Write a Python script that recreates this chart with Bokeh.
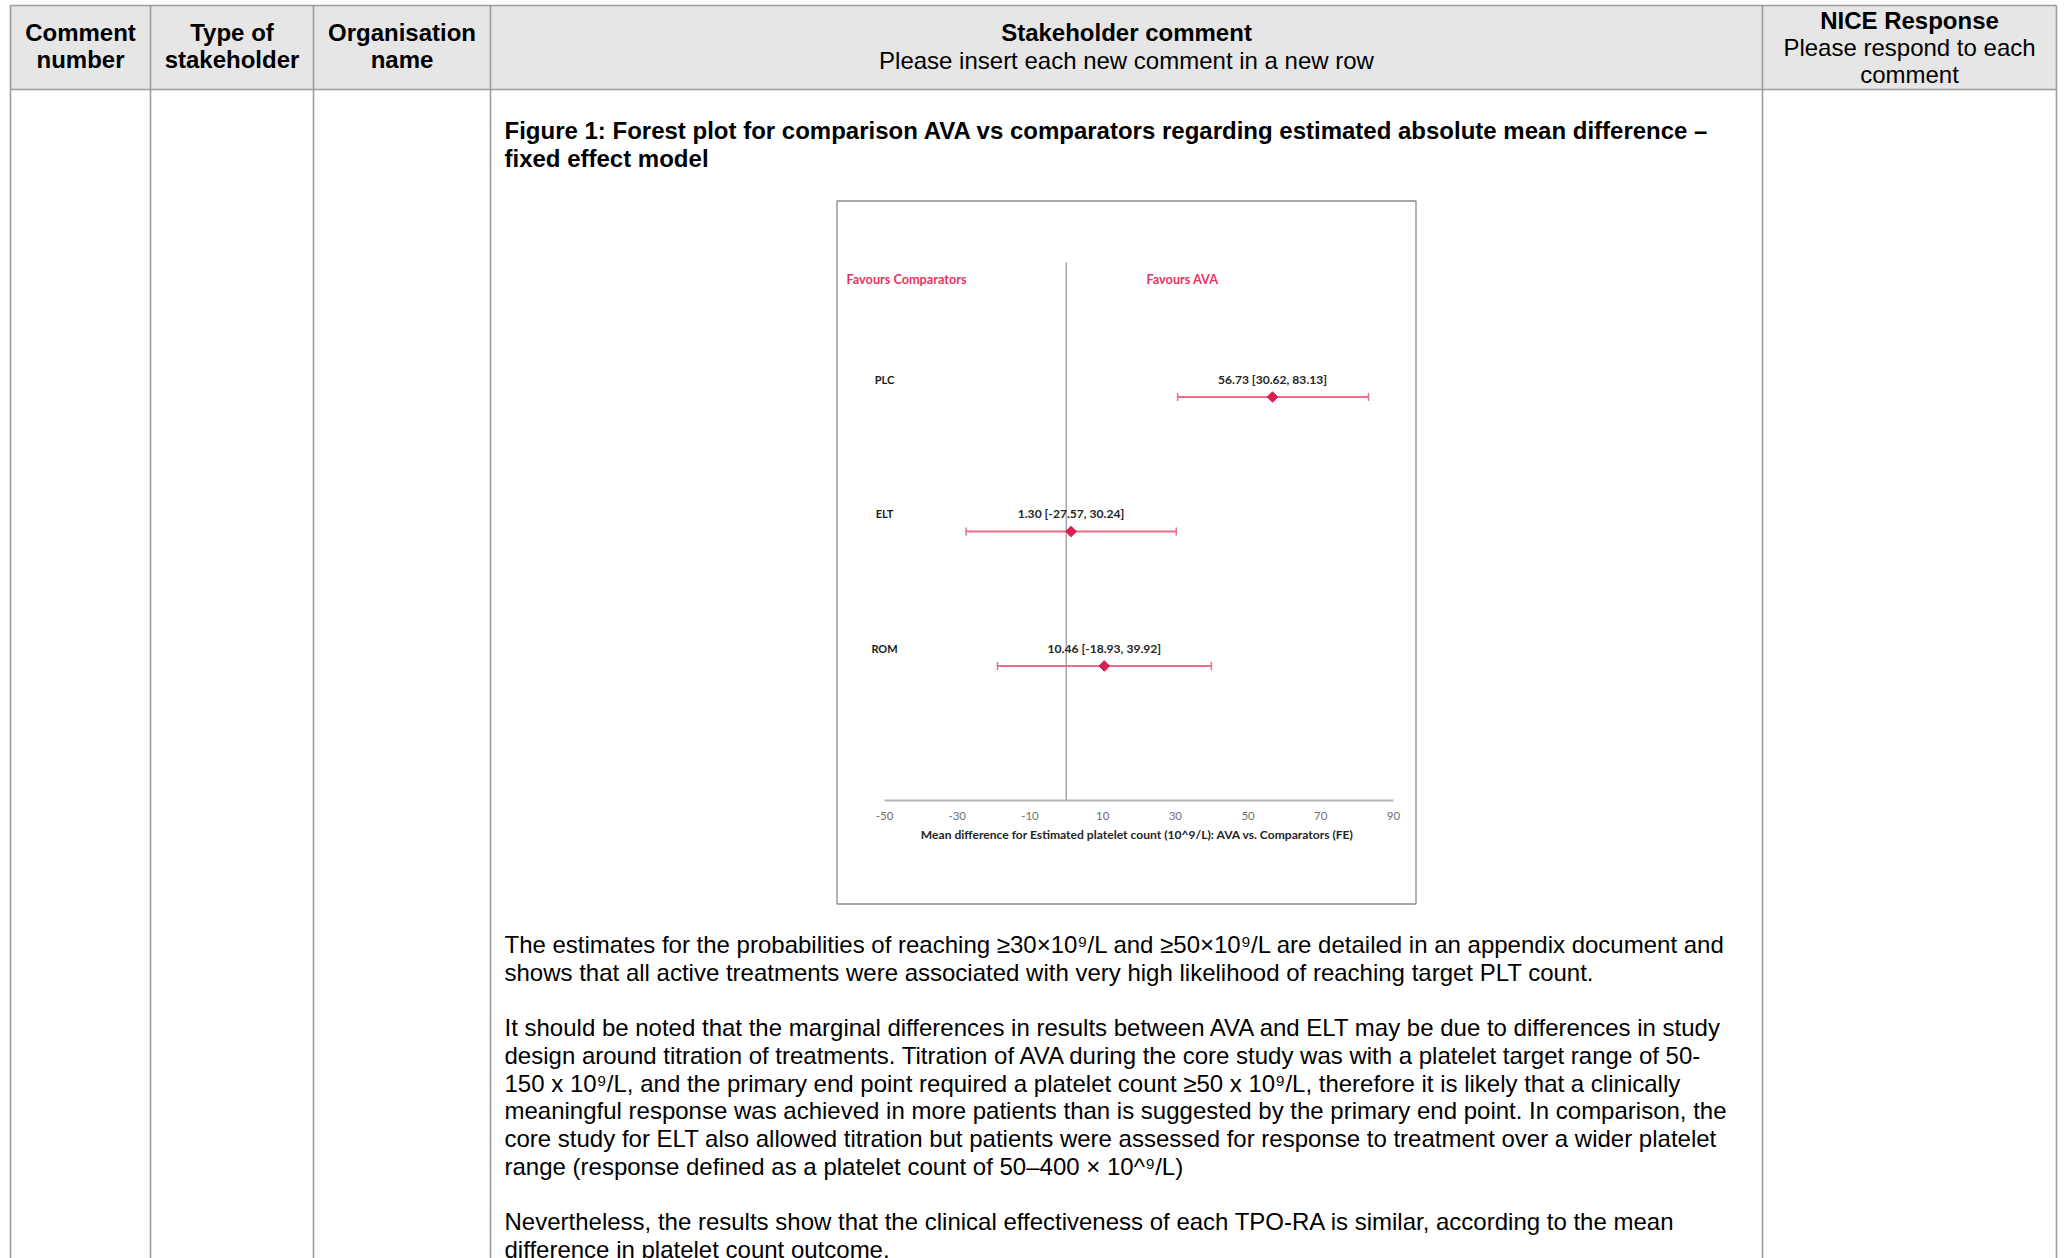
import math
from bokeh.plotting import figure
from bokeh.models import Range1d
from bokeh.embed import file_html
from bokeh.resources import INLINE
from bokeh.core.properties import value

# ---------------- chart data ----------------
treatments = ["PLC", "ELT", "ROM"]
mean_difference = [56.73, 1.30, 10.46]
ci_lower = [30.62, -27.57, -18.93]
ci_upper = [83.13, 30.24, 39.92]
row_position = [3, 2, 1]
x_ticks = [-50, -30, -10, 10, 30, 50, 70, 90]
x_axis_title = "Mean difference for Estimated platelet count (10^9/L): AVA vs. Comparators  (FE)"
favours_left = "Favours Comparators"
favours_right = "Favours AVA"

# ---------------- page text ----------------
header_cells = [["Comment", "number"], ["Type of", "stakeholder"], ["Organisation", "name"]]
header_comment = ["Stakeholder comment", "Please insert each new comment in a new row"]
header_response = ["NICE Response", "Please respond to each", "comment"]
figure_title = ["Figure 1: Forest plot for comparison AVA vs comparators regarding estimated absolute mean difference \u2013",
                "fixed effect model"]
body_lines = [
    "The estimates for the probabilities of reaching \u226530\u00d710\u2079/L and \u226550\u00d710\u2079/L are detailed in an appendix document and",
    "shows that all active treatments were associated with very high likelihood of reaching target PLT count.",
    "",
    "It should be noted that the marginal differences in results between AVA and ELT may be due to differences in study",
    "design around titration of treatments. Titration of AVA during the core study was with a platelet target range of 50-",
    "150 x 10\u2079/L, and the primary end point required a platelet count \u226550 x 10\u2079/L, therefore it is likely that a clinically",
    "meaningful response was achieved in more patients than is suggested by the primary end point. In comparison, the",
    "core study for ELT also allowed titration but patients were assessed for response to treatment over a wider platelet",
    "range (response defined as a platelet count of 50\u2013400 \u00d7 10^\u2079/L)",
    "",
    "Nevertheless, the results show that the clinical effectiveness of each TPO-RA is similar, according to the mean",
    "difference in platelet count outcome.",
]

# ---------------- layout constants (page px) ----------------
W, H = 2065, 1258
COL_X = [10, 150, 313, 490, 1762, 2056]
HEAD_TOP, HEAD_BOT = 5, 89
BOX = (836.5, 1415.5, 200.5, 903.5)      # left, right, top, bottom of chart box
AX_X0, AX_X1 = 884, 1393                 # pixel span of the chart's x axis
AX_Y0, AX_Y_TOP = 800, 262               # pixel of y=0 (axis) and y=4 (top)
LINE_H = 27.7
TEXT_X = 504
GRID_C = "#9c9c9c"
GRID_W = 1.6
FONT = value("Liberation Sans")
CFONT = value("Lato")

p = figure(width=W, height=H, x_range=Range1d(0, W), y_range=Range1d(H, 0),
           toolbar_location=None, output_backend="svg", min_border=0,
           x_axis_location=None, y_axis_location=None, title_location=None)
p.grid.visible = False
p.outline_line_color = None
p.background_fill_color = "white"
p.border_fill_color = "white"

# chart scales mapped into the box
kx = (x_ticks[-1] - x_ticks[0]) / (AX_X1 - AX_X0)
n_rows = len(treatments) + 1
ky = n_rows / (AX_Y0 - AX_Y_TOP)
p.extra_x_ranges = {"fx": Range1d(x_ticks[0] - AX_X0 * kx, x_ticks[-1] + (W - AX_X1) * kx)}
p.extra_y_ranges = {"fy": Range1d(-(H - AX_Y0) * ky, AX_Y0 * ky)}
R = dict(x_range_name="fx", y_range_name="fy")

# ---- table ----
p.quad(left=[COL_X[0]], right=[COL_X[-1]], top=[HEAD_TOP], bottom=[HEAD_BOT], fill_color="#e6e6e6", line_color=None)
p.segment(x0=[COL_X[0]] * 2, x1=[COL_X[-1]] * 2, y0=[HEAD_TOP, HEAD_BOT], y1=[HEAD_TOP, HEAD_BOT],
          line_color=GRID_C, line_width=GRID_W)
p.segment(x0=COL_X, x1=COL_X, y0=[HEAD_TOP] * len(COL_X), y1=[H + 5] * len(COL_X),
          line_color=GRID_C, line_width=GRID_W)

hx, hy, ht = [], [], []
for i, cell in enumerate(header_cells):
    cx = (COL_X[i] + COL_X[i + 1]) / 2
    for j, t in enumerate(cell):
        hx.append(cx); hy.append(31.6 + j * LINE_H); ht.append(t)
cx4 = (COL_X[3] + COL_X[4]) / 2
cx5 = (COL_X[4] + COL_X[5]) / 2
hx += [cx4, cx5]; hy += [31.6, 19.8]; ht += [header_comment[0], header_response[0]]
p.text(x=hx, y=hy, text=ht, text_font=FONT, text_font_size="24px", text_font_style="bold",
       text_align="center", text_baseline="middle", text_color="#000000")
p.text(x=[cx4, cx5, cx5], y=[60.2, 47.2, 74.2], text=[header_comment[1], header_response[1], header_response[2]],
       text_font=FONT, text_font_size="24px", text_align="center", text_baseline="middle", text_color="#000000")
p.text(x=[TEXT_X] * len(figure_title), y=[130.4 + k * LINE_H for k in range(len(figure_title))], text=figure_title,
       text_font=FONT, text_font_size="24px", text_font_style="bold", text_align="left",
       text_baseline="middle", text_color="#000000")
p.text(x=[TEXT_X] * len(body_lines), y=[944.2 + k * LINE_H for k in range(len(body_lines))], text=body_lines,
       text_font=FONT, text_font_size="24px", text_align="left", text_baseline="middle", text_color="#000000")

# ---- forest plot box ----
p.quad(left=[BOX[0]], right=[BOX[1]], top=[BOX[2]], bottom=[BOX[3]], fill_color="white",
       line_color="#8c8c8c", line_width=1.3)

CI_C = "#EA6F8B"
DOT_C = "#DC1F50"
FAV_C = "#E63462"

# zero line and x axis
p.segment(x0=[0], x1=[0], y0=[0], y1=[n_rows], line_color="#a6a6a6", line_width=1.5, **R)
p.segment(x0=[x_ticks[0]], x1=[x_ticks[-1]], y0=[0], y1=[0], line_color="#b4b4b4", line_width=2, **R)
p.text(x=x_ticks, y=[0] * len(x_ticks), text=[str(t) for t in x_ticks], y_offset=15,
       text_align="center", text_baseline="middle", text_font=CFONT, text_font_size="11.5px",
       text_color="#707070", **R)
p.text(x=[(x_ticks[0] + x_ticks[-1]) / 2], y=[0], text=[x_axis_title], y_offset=34,
       text_align="center", text_baseline="middle", text_font=CFONT, text_font_size="12.1px",
       text_font_style="bold", text_color="#262626", **R)

# confidence intervals, caps, points
p.segment(x0=ci_lower, x1=ci_upper, y0=row_position, y1=row_position, line_color=CI_C, line_width=2, **R)
p.scatter(x=ci_lower + ci_upper, y=row_position * 2, marker="dash", angle=math.pi / 2, size=8,
          line_color=CI_C, line_width=1.5, **R)
p.scatter(x=mean_difference, y=row_position, marker="square", angle=math.pi / 4, size=7.5,
          fill_color=DOT_C, line_color=DOT_C, **R)

labels = [f"{m:.2f} [{l:.2f}, {h:.2f}]" for m, l, h in zip(mean_difference, ci_lower, ci_upper)]
p.text(x=mean_difference, y=row_position, text=labels, y_offset=-18, text_align="center",
       text_baseline="middle", text_font=CFONT, text_font_size="12.1px", text_font_style="bold",
       text_color="#262626", **R)
p.text(x=[x_ticks[0]] * len(treatments), y=row_position, text=treatments, y_offset=-18,
       text_align="center", text_baseline="middle", text_font=CFONT, text_font_size="11px",
       text_font_style="bold", text_color="#1a1a1a", **R)
p.text(x=[-60.45, 22.06], y=[3.874, 3.874], text=[favours_left, favours_right], text_align="left",
       text_baseline="middle", text_font=CFONT, text_font_size="12.7px", text_font_style="bold",
       text_color=FAV_C, **R)

open("out.html", "w").write(file_html(p, INLINE))
